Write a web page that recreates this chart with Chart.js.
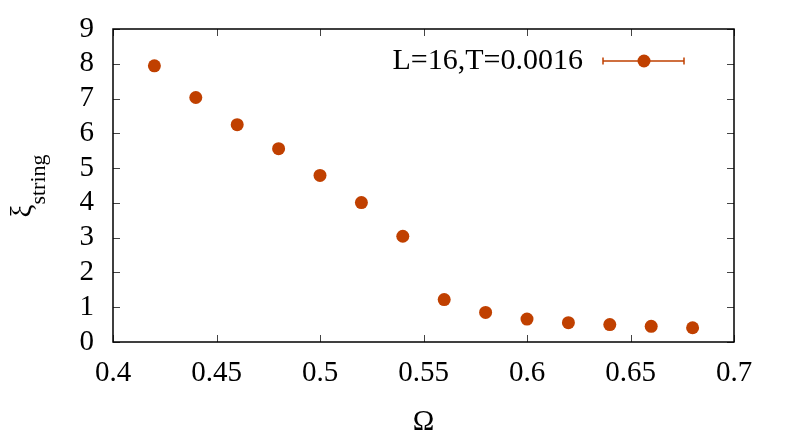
<!DOCTYPE html>
<html>
<head>
<meta charset="utf-8">
<script src="https://cdn.jsdelivr.net/npm/chart.js@4"></script>
<style>
  html,body{margin:0;padding:0;background:#fff;}
  #c{display:block;}
</style>
</head>
<body>
<canvas id="c" width="789" height="441"></canvas>
<script>
// data
const omega = [0.42, 0.44, 0.46, 0.48, 0.50, 0.52, 0.54, 0.56, 0.58, 0.60, 0.62, 0.64, 0.66, 0.68];
const xiString = [7.94, 7.03, 6.25, 5.56, 4.79, 4.01, 3.04, 1.22, 0.85, 0.66, 0.555, 0.50, 0.45, 0.41];
const xTicks = [0.4, 0.45, 0.5, 0.55, 0.6, 0.65, 0.7];
const yTicks = [0, 1, 2, 3, 4, 5, 6, 7, 8, 9];
const seriesLabel = "L=16,T=0.0016";

const COLOR = "#c04000";
const FONT = "'Liberation Serif', 'DejaVu Serif', serif";

// frame, inward ticks, legend and axis titles
const decor = {
  id: "decor",
  afterDraw(chart){
    const ctx = chart.ctx, a = chart.chartArea;
    const xs = chart.scales.x, ys = chart.scales.y;
    ctx.save();
    // inward ticks on all four sides
    ctx.strokeStyle = "#444";
    ctx.lineWidth = 1;
    ctx.beginPath();
    xTicks.forEach(v=>{
      const px = Math.round(xs.getPixelForValue(v)) + 0.5;
      ctx.moveTo(px, a.bottom); ctx.lineTo(px, a.bottom - 7);
      ctx.moveTo(px, a.top); ctx.lineTo(px, a.top + 7);
    });
    yTicks.forEach(v=>{
      const py = Math.round(ys.getPixelForValue(v)) + 0.5;
      ctx.moveTo(a.left, py); ctx.lineTo(a.left + 7, py);
      ctx.moveTo(a.right, py); ctx.lineTo(a.right - 7, py);
    });
    ctx.stroke();
    // frame
    ctx.strokeStyle = "#000";
    ctx.lineWidth = 1.5;
    ctx.strokeRect(a.left, a.top, a.right - a.left, a.bottom - a.top);

    // legend
    const ly = 61;
    ctx.fillStyle = "#000";
    ctx.font = "30px " + FONT;
    ctx.textAlign = "right";
    ctx.textBaseline = "middle";
    ctx.fillText(seriesLabel, 583, ly);
    ctx.strokeStyle = COLOR;
    ctx.lineWidth = 1.5;
    ctx.beginPath();
    ctx.moveTo(603, ly); ctx.lineTo(684, ly);
    ctx.moveTo(603, ly - 3.5); ctx.lineTo(603, ly + 3.5);
    ctx.moveTo(684, ly - 3.5); ctx.lineTo(684, ly + 3.5);
    ctx.stroke();
    ctx.fillStyle = COLOR;
    ctx.beginPath();
    ctx.arc(644, ly, 6.5, 0, Math.PI * 2);
    ctx.fill();

    // x title
    ctx.fillStyle = "#000";
    ctx.textAlign = "center";
    ctx.textBaseline = "alphabetic";
    ctx.font = "29px " + FONT;
    ctx.fillText("Ω", (a.left + a.right) / 2, 430);

    // y title: xi with subscript "string"
    ctx.translate(0, 186);
    ctx.rotate(-Math.PI / 2);
    ctx.textAlign = "left";
    ctx.font = "29px " + FONT;
    const w1 = ctx.measureText("ξ").width;
    ctx.font = "22px " + FONT;
    const w2 = ctx.measureText("string").width;
    const x0 = -(w1 + w2) / 2;
    ctx.font = "29px " + FONT;
    ctx.fillText("ξ", x0, 31);
    ctx.font = "22px " + FONT;
    ctx.fillText("string", x0 + w1, 45);
    ctx.restore();
  }
};

new Chart(document.getElementById("c"), {
  type: "scatter",
  data: {
    datasets: [{
      label: seriesLabel,
      data: omega.map((x, i) => ({x, y: xiString[i]})),
      backgroundColor: COLOR,
      borderColor: COLOR,
      borderWidth: 0,
      pointRadius: 6.5,
      pointHoverRadius: 6.5
    }]
  },
  options: {
    responsive: false,
    devicePixelRatio: 1,
    animation: false,
    layout: { padding: { top: 29, right: 55, left: 0, bottom: 0 } },
    plugins: { legend: { display: false }, tooltip: { enabled: false } },
    scales: {
      x: {
        type: "linear",
        min: 0.4, max: 0.7,
        grid: { display: false, drawTicks: false },
        border: { display: false },
        afterBuildTicks: s => { s.ticks = xTicks.map(v => ({value: v})); },
        afterFit: s => { s.height = 99; },
        ticks: {
          autoSkip: false,
          maxRotation: 0,
          padding: 14,
          color: "#000",
          font: { family: FONT, size: 29 },
          callback: v => String(+v.toFixed(2))
        }
      },
      y: {
        min: 0, max: 9,
        grid: { display: false, drawTicks: false },
        border: { display: false },
        afterBuildTicks: s => { s.ticks = yTicks.map(v => ({value: v})); },
        afterFit: s => { s.width = 113; },
        ticks: {
          autoSkip: false,
          padding: 19,
          color: "#000",
          font: { family: FONT, size: 29, lineHeight: 0.6 },
          callback: v => String(v)
        }
      }
    }
  },
  plugins: [decor]
});
</script>
</body>
</html>
